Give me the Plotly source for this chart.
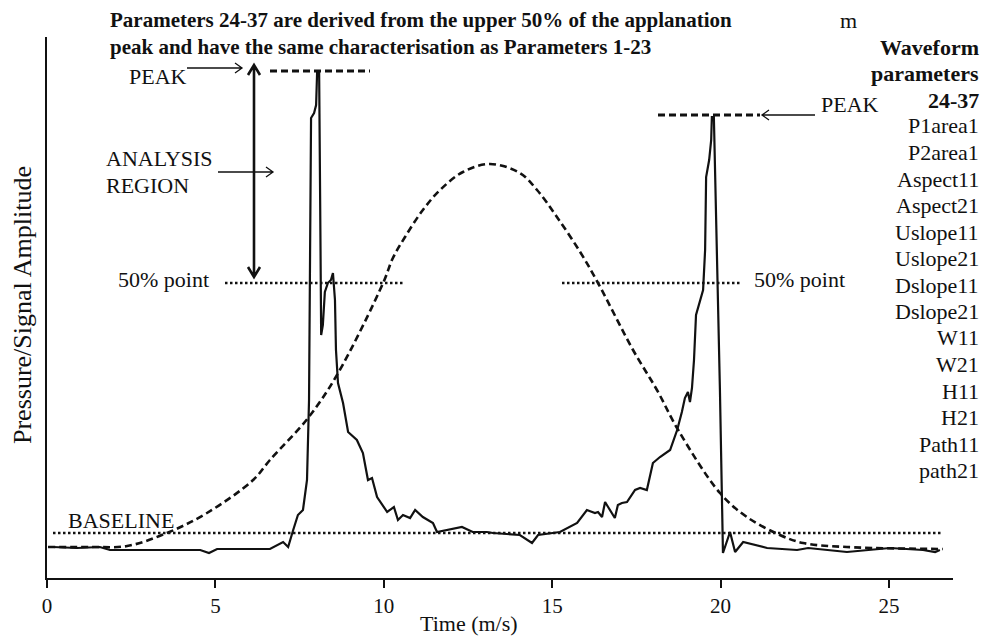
import plotly.graph_objects as go

# ---------------- data (time in m/s, amplitude in arbitrary units) ----------------
wave_t = [0.18, 0.89, 1.57, 1.87, 4.55, 4.81, 5.05, 6.62, 7.01, 7.16, 7.31, 7.45, 7.60,
          7.72, 7.78, 7.81, 7.84, 7.93, 7.99, 8.02, 8.08, 8.11, 8.14, 8.19, 8.25, 8.34,
          8.43, 8.49, 8.55, 8.58, 8.64, 8.79, 8.94, 9.20, 9.38, 9.53, 9.65, 9.80, 10.10,
          10.30, 10.42, 10.57, 10.78, 10.93, 11.16, 11.46, 11.58, 12.32, 12.64, 13.06,
          13.24, 14.04, 14.40, 14.58, 15.23, 15.74, 16.03, 16.27, 16.36, 16.48, 16.57,
          16.66, 16.78, 16.86, 16.95, 17.07, 17.22, 17.46, 17.61, 17.81, 17.99, 18.20,
          18.50, 18.71, 18.85, 18.94, 19.03, 19.09, 19.15, 19.21, 19.27, 19.39, 19.48,
          19.54, 19.57, 19.66, 19.72, 19.74, 19.80, 19.98, 20.07, 20.28, 20.43, 20.67,
          21.02, 21.38, 22.27, 22.60, 23.75, 25.03, 26.01, 26.37, 26.51]
wave_amp = [31, 30, 31, 28, 28, 25, 29, 29, 36, 31, 48, 63, 68,
            98, 178, 328, 460, 465, 473, 506, 506, 378, 243, 253, 286, 295,
            298, 305, 278, 228, 195, 175, 146, 138, 125, 98, 100, 81, 66,
            71, 58, 63, 60, 68, 61, 55, 46, 51, 46, 46,
            45, 43, 35, 43, 46, 55, 68, 65, 66, 61, 76,
            71, 65, 60, 73, 75, 76, 88, 90, 88, 115, 121,
            128, 148, 166, 180, 186, 176, 190, 218, 263, 276, 288,
            328, 401, 418, 438, 461, 461, 188, 25, 46, 26, 36,
            33, 30, 28, 30, 26, 30, 28, 26, 28]

bell_t = [0.03, 1.28, 2.38, 3.56, 4.75, 6.12, 6.62, 7.75, 8.61, 9.98, 10.27, 10.63,
          11.16, 11.67, 12.35, 13.15, 14.04, 14.55, 15.14, 15.83, 16.36, 17.40, 18.11,
          18.74, 19.98, 20.78, 21.76, 22.45, 23.75, 26.60]
bell_amp = [31, 31, 32, 45, 65, 98, 118, 160, 203, 295, 320, 341,
            368, 388, 406, 414, 405, 388, 361, 326, 295, 228, 188,
            148, 85, 61, 43, 35, 31, 29]

x_ticks = [0, 5, 10, 15, 20, 25]
x_range = [0, 26.9]
y_range = [0, 541]

title_lines = ["Parameters 24-37 are derived from the upper 50% of the applanation",
               "peak and have the same characterisation as Parameters 1-23"]
param_header = ["Waveform", "parameters", "24-37"]
param_names = ["P1area1", "P2area1", "Aspect11", "Aspect21", "Uslope11", "Uslope21",
               "Dslope11", "Dslope21", "W11", "W21", "H11", "H21", "Path11", "path21"]

# ---------------- layout helpers (pixel -> axis / paper) ----------------
W, H = 989, 639
ML, MR, MT, MB = 47, 36, 37, 61
PW, PH = W - ML - MR, H - MT - MB


def ax_x(p):
    return x_range[0] + (p - ML) / PW * (x_range[1] - x_range[0])


def ax_y(p):
    return y_range[0] + (H - MB - p) / PH * (y_range[1] - y_range[0])


def pap_x(p):
    return (p - ML) / PW


def pap_y(p):
    return (H - MB - p) / PH


FONT = "Liberation Serif, Times New Roman, serif"
INK = "#111111"

fig = go.Figure()
fig.add_trace(go.Scatter(x=bell_t, y=bell_amp, mode="lines", line_shape="spline",
                         line=dict(color=INK, width=2.6, dash="7px,4px"),
                         hoverinfo="skip", showlegend=False))
fig.add_trace(go.Scatter(x=wave_t, y=wave_amp, mode="lines",
                         line=dict(color=INK, width=2.2),
                         hoverinfo="skip", showlegend=False))

shapes = []


def hline(x0, x1, yv, dash, width):
    shapes.append(dict(type="line", xref="x", yref="y", x0=x0, x1=x1, y0=yv, y1=yv,
                       line=dict(color=INK, width=width, dash=dash)))


def path(points_list, width):
    d = ""
    for pts in points_list:
        d += "M " + " L ".join(f"{ax_x(a):.4f},{ax_y(b):.3f}" for a, b in pts) + " "
    shapes.append(dict(type="path", xref="x", yref="y", path=d.strip(),
                       line=dict(color=INK, width=width)))


left_peak = max(wave_amp[:40])
right_peak = max(wave_amp[60:])
hline(ax_x(270), ax_x(370), left_peak + 1, "7px,4px", 2.8)
hline(ax_x(658), ax_x(760), right_peak + 2, "7px,4px", 2.8)
hline(ax_x(225), ax_x(405), ax_y(283), "2.5px,2.5px", 2.6)
hline(ax_x(562), ax_x(742), ax_y(283), "2.5px,2.5px", 2.6)
hline(ax_x(53), ax_x(943), ax_y(533), "2.5px,2.5px", 2.6)

# arrows
path([[(187, 68), (242, 68)], [(235, 63), (242, 68), (235, 73)]], 1.3)
path([[(218, 172), (273, 172)], [(266, 167), (273, 172), (266, 177)]], 1.3)
path([[(815, 115), (762, 115)], [(769, 110), (762, 115), (769, 120)]], 1.3)
path([[(254, 65), (254, 277)], [(248, 75), (254, 65), (260, 75)],
      [(248, 267), (254, 277), (260, 267)]], 2.6)

ann = []


def text(t, xp, yp, size=22, bold=False, xanchor="left", angle=0):
    ann.append(dict(text=f"<b>{t}</b>" if bold else t, x=pap_x(xp), y=pap_y(yp),
                    xref="paper", yref="paper", xanchor=xanchor, yanchor="middle",
                    showarrow=False, textangle=angle,
                    font=dict(family=FONT, size=size, color=INK)))


text(title_lines[0], 108, 20, size=21, bold=True)
text(title_lines[1], 108, 47, size=21, bold=True)
text("m", 848, 20, xanchor="center")
for i, t in enumerate(param_header):
    text(t, 981, 47 + i * 26.5, bold=True, xanchor="right")
for i, t in enumerate(param_names):
    text(t, 981, 126 + i * 26.5, xanchor="right")
text("PEAK", 127, 76)
text("ANALYSIS", 104, 158)
text("REGION", 104, 185)
text("50% point", 116, 279)
text("50% point", 752, 279)
text("PEAK", 819, 104)
text("BASELINE", 66, 520)
text("Time (m/s)", 469, 623, xanchor="center")
text("Pressure/Signal Amplitude", 22, 305, size=26, xanchor="center", angle=-90)

fig.update_layout(
    width=W, height=H,
    margin=dict(l=ML, r=MR, t=MT, b=MB, pad=0),
    paper_bgcolor="white", plot_bgcolor="white",
    shapes=shapes, annotations=ann,
    font=dict(family=FONT, color=INK),
    xaxis=dict(range=x_range, tickvals=x_ticks, ticks="outside", ticklen=8, tickwidth=2,
               tickcolor=INK, showline=True, linewidth=2.2, linecolor=INK, showgrid=False,
               zeroline=False, tickfont=dict(family=FONT, size=21, color=INK)),
    yaxis=dict(range=y_range, showticklabels=False, ticks="", showline=True, linewidth=2.2,
               linecolor=INK, showgrid=False, zeroline=False),
)

fig.write_html("out.html")
